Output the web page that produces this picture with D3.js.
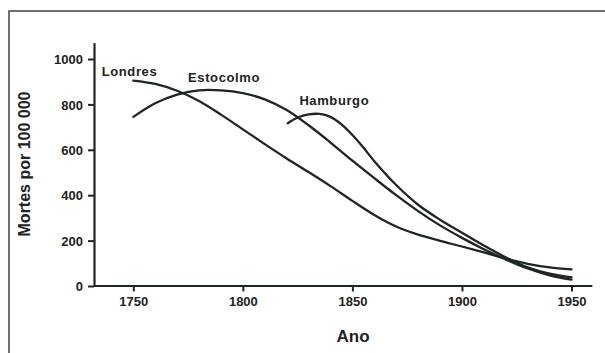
<!DOCTYPE html>
<html>
<head>
<meta charset="utf-8">
<script src="https://cdn.jsdelivr.net/npm/d3@7"></script>
<style>
  html, body { margin: 0; padding: 0; background: #fff; }
  svg { display: block; font-family: "Liberation Sans", Arial, sans-serif; }
</style>
</head>
<body>
<svg id="chart" width="605" height="353"></svg>
<script>
// Daten
const londresYears = [1750, 1760, 1770, 1780, 1790, 1800, 1810, 1820, 1830, 1840, 1850, 1860, 1870, 1880, 1890, 1900, 1910, 1920, 1930, 1940, 1950];
const londresValues = [905, 890, 860, 815, 755, 690, 625, 562, 502, 440, 375, 313, 262, 226, 199, 174, 148, 121, 98, 82, 73];

const estocolmoYears = [1750, 1760, 1770, 1780, 1790, 1800, 1810, 1820, 1830, 1840, 1850, 1860, 1870, 1880, 1890, 1900, 1910, 1920, 1930, 1940, 1950];
const estocolmoValues = [745, 805, 843, 862, 862, 850, 822, 775, 708, 632, 552, 475, 400, 330, 267, 212, 162, 117, 77, 47, 28];

const hamburgoYears = [1820.5, 1825, 1830, 1835, 1840, 1845, 1850, 1855, 1860, 1870, 1880, 1890, 1900, 1910, 1920, 1930, 1940, 1950];
const hamburgoValues = [717, 742, 756, 758, 745, 712, 665, 610, 550, 445, 358, 292, 235, 178, 126, 82, 54, 38];

const xTicks = [1750, 1800, 1850, 1900, 1950];
const yTicks = [0, 200, 400, 600, 800, 1000];

const seriesLabels = [
  { name: "Londres", year: 1735.6, value: 925 },
  { name: "Estocolmo", year: 1775, value: 899 },
  { name: "Hamburgo", year: 1825.8, value: 797 }
];

const ink = "#1d2621";
const svg = d3.select("#chart");

// Rahmen (rechts/unten abgeschnitten)
svg.append("rect")
  .attr("x", 9).attr("y", 11)
  .attr("width", 640).attr("height", 400)
  .attr("fill", "none")
  .attr("stroke", "#4a524d")
  .attr("stroke-width", 1.6);

// Skalen
const x = d3.scaleLinear().domain([1750, 1950]).range([133.3, 571.5]);
const y = d3.scaleLinear().domain([0, 1000]).range([286, 59]);

// Achsen mit verlängerter Domain
const xAxisScale = x.copy().domain([1731.8, 1959.3]).range([x(1731.8), x(1959.3)]);
const yAxisScale = y.copy().domain([0, 1072]).range([y(0), y(1072)]);

const xAxis = svg.append("g")
  .attr("transform", "translate(0,285.5)")
  .call(d3.axisBottom(xAxisScale).tickValues(xTicks).tickFormat(d3.format("d")).tickSize(6).tickSizeOuter(0).tickPadding(5));

const yAxis = svg.append("g")
  .attr("transform", "translate(94,0)")
  .call(d3.axisLeft(yAxisScale).tickValues(yTicks).tickFormat(d3.format("d")).tickSize(6).tickSizeOuter(0).tickPadding(5));

[xAxis, yAxis].forEach(a => {
  a.select(".domain").attr("stroke", ink).attr("stroke-width", 2.2);
  a.selectAll(".tick line").attr("stroke", ink).attr("stroke-width", 2);
  a.selectAll(".tick text")
    .attr("fill", "#222")
    .attr("font-size", 13)
    .attr("font-weight", "bold")
    .attr("font-family", "Liberation Sans, Arial, sans-serif");
});
yAxis.selectAll(".tick text").attr("dy", "0.36em");

// Achsentitel
svg.append("text")
  .attr("x", 353).attr("y", 342)
  .attr("text-anchor", "middle")
  .attr("font-size", 17)
  .attr("font-weight", "bold")
  .attr("fill", "#222")
  .text("Ano");

svg.append("text")
  .attr("transform", "translate(30,164) rotate(-90)")
  .attr("text-anchor", "middle")
  .attr("font-size", 16)
  .attr("font-weight", "bold")
  .attr("fill", "#222")
  .text("Mortes por 100 000");

// Linien
const line = d3.line()
  .x(d => x(d[0]))
  .y(d => y(d[1]))
  .curve(d3.curveCatmullRom.alpha(0.5));

const series = [
  d3.zip(londresYears, londresValues),
  d3.zip(estocolmoYears, estocolmoValues),
  d3.zip(hamburgoYears, hamburgoValues)
];

svg.append("g").selectAll("path")
  .data(series)
  .join("path")
    .attr("d", line)
    .attr("fill", "none")
    .attr("stroke", ink)
    .attr("stroke-width", 2.3)
    .attr("stroke-linecap", "round");

// Beschriftungen der Kurven
svg.append("g").selectAll("text")
  .data(seriesLabels)
  .join("text")
    .attr("x", d => x(d.year))
    .attr("y", d => y(d.value))
    .attr("font-size", 13)
    .attr("font-weight", "bold")
    .attr("letter-spacing", 0.6)
    .attr("fill", "#222")
    .text(d => d.name);
</script>
</body>
</html>
